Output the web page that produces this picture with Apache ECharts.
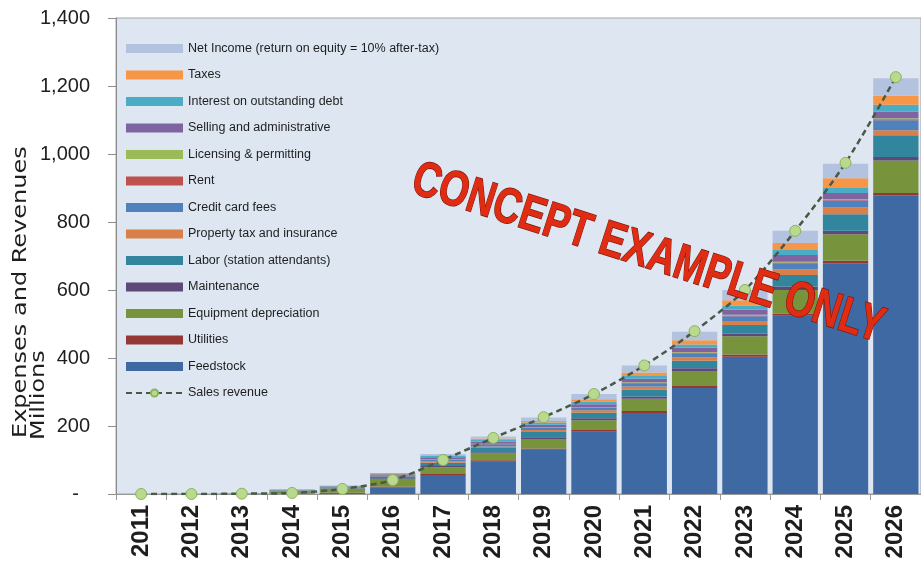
<!DOCTYPE html>
<html>
<head>
<meta charset="utf-8">
<script src="https://cdn.jsdelivr.net/npm/echarts@6/dist/echarts.min.js"></script>
<style>
  html, body { margin: 0; padding: 0; background: #fff; }
  #chart { width: 921px; height: 579px; }
</style>
</head>
<body>
<div id="chart"></div>
<script>
// values in millions
const years = ['2011', '2012', '2013', '2014', '2015', '2016', '2017', '2018', '2019', '2020', '2021', '2022', '2023', '2024', '2025', '2026']
const feedstock = [0, 0, 0, 1, 3, 20, 56, 95, 130, 183, 238, 312, 404, 524, 679, 879]
const utilities = [0, 0, 0, 0.5, 1, 2, 3, 4, 4, 5, 6, 6, 6, 7, 7, 6]
const equipment = [0, 0, 1, 6, 12, 22, 20, 20, 28, 29, 36, 44, 54, 69, 78, 96]
const maintenance = [0, 0, 0, 0.5, 1, 2, 3, 4, 5, 6, 7, 8, 8, 10, 10, 10]
const labor = [0, 0, 0.5, 2, 3, 6, 10, 12, 15, 16, 20, 22, 25, 34, 49, 64]
const propertyTax = [0, 0, 0.3, 1, 1, 2, 4, 5, 6, 7, 9, 10, 12, 17, 20, 15]
const creditCard = [0, 0, 0, 0.5, 1, 2, 5, 6, 7, 8, 10, 12, 14, 18, 20, 29]
const rent = [0, 0, 0, 0, 0, 0.5, 1, 1, 1, 1, 1, 2, 2, 2, 2, 3]
const licensing = [0, 0, 0, 0, 0, 0.5, 1, 1, 1, 1, 2, 2, 2, 2, 2, 3]
const selling = [0, 0, 0, 0.5, 1, 2, 5, 6, 7, 8, 10, 12, 15, 20, 18, 20]
const interest = [0, 0, 0, 1, 1, 2, 4, 5, 6, 7, 8, 10, 12, 15, 15, 20]
const taxes = [0, 0, 0, 0, 0, 0, 2, 4, 5, 8, 10, 12, 16, 20, 29, 26]
const netIncome = [0, 0, 0, 0, 0, 1, 4, 6, 10, 15, 21, 25, 30, 36, 42, 52]
const salesRevenue = [0, 0, 1, 3, 15, 41, 100, 165, 226, 294, 378, 479, 600, 774, 974, 1226]
const yTicks = [0, 200, 400, 600, 800, 1000, 1200, 1400]

// stacked from the bottom up
const stackParts = [
  { name: 'Feedstock', data: feedstock, color: '#3e69a2' },
  { name: 'Utilities', data: utilities, color: '#953735' },
  { name: 'Equipment depreciation', data: equipment, color: '#77933c' },
  { name: 'Maintenance', data: maintenance, color: '#5f497a' },
  { name: 'Labor (station attendants)', data: labor, color: '#31859c' },
  { name: 'Property tax and insurance', data: propertyTax, color: '#d9804a' },
  { name: 'Credit card fees', data: creditCard, color: '#4f81bd' },
  { name: 'Rent', data: rent, color: '#c0504d' },
  { name: 'Licensing & permitting', data: licensing, color: '#9bbb59' },
  { name: 'Selling and administrative', data: selling, color: '#8064a2' },
  { name: 'Interest on outstanding debt', data: interest, color: '#4bacc6' },
  { name: 'Taxes', data: taxes, color: '#f79646' },
  { name: 'Net Income (return on equity = 10% after-tax)', data: netIncome, color: '#b3c3df' }
]

// legend lists the stack top first, then the line
const legendData = stackParts.map(p => ({ name: p.name, icon: 'rect' })).reverse()
legendData.push({ name: 'Sales revenue' })

const series = stackParts.map(p => ({
  name: p.name,
  type: 'bar',
  stack: 'cost',
  barCategoryGap: '10%',
  data: p.data,
  itemStyle: { color: p.color }
}))
series.push({
  name: 'Sales revenue',
  type: 'line',
  data: salesRevenue,
  smooth: 0.3,
  symbol: 'circle',
  symbolSize: 11,
  z: 5,
  lineStyle: { color: '#4a5848', width: 2.5, type: [6, 4] },
  itemStyle: { color: '#b9da8e', borderColor: '#8db25e', borderWidth: 1 }
})

var myChart = echarts.init(document.getElementById('chart'))
const option = {
  animation: false,
  backgroundColor: '#fff',
  grid: {
    left: 116,
    right: 0,
    top: 18,
    bottom: 85,
    show: true,
    backgroundColor: '#dde6f1',
    borderColor: '#a6a6a6',
    borderWidth: 1
  },
  legend: {
    data: legendData,
    orient: 'vertical',
    left: 125,
    top: 40.5,
    padding: 0,
    itemWidth: 57,
    itemHeight: 9,
    itemGap: 10.5,
    textStyle: {
      fontFamily: '"Liberation Sans", sans-serif',
      fontSize: 12.5,
      lineHeight: 16,
      color: '#1e1e1e'
    }
  },
  xAxis: {
    type: 'category',
    data: years,
    axisLine: { lineStyle: { color: '#9a9a9a' } },
    axisTick: { show: true, length: 6, lineStyle: { color: '#9a9a9a' } },
    axisLabel: {
      rotate: 90,
      margin: 11,
      fontFamily: '"Liberation Sans", sans-serif',
      fontWeight: 'bold',
      fontSize: 24,
      color: '#1e1e1e'
    }
  },
  yAxis: {
    type: 'value',
    min: 0,
    max: 1400,
    interval: 200,
    axisLine: { show: true, lineStyle: { color: '#8c8c8c' } },
    axisTick: { show: true, length: 8, lineStyle: { color: '#8c8c8c' } },
    splitLine: { show: false },
    axisLabel: {
      margin: 26,
      fontFamily: '"Liberation Sans", sans-serif',
      fontSize: 20,
      color: '#1e1e1e',
      formatter: function(v) {
        if (v === 0) return '-  '
        return yTicks.indexOf(v) >= 0 ? v.toLocaleString('en-US') : ''
      }
    }
  },
  graphic: [
    {
      type: 'text',
      x: 21,
      y: 438,
      rotation: Math.PI / 2,
      scaleY: 0.8,
      style: {
        text: 'Expenses and Revenues',
        font: '24px "DejaVu Sans", sans-serif',
        fill: '#1e1e1e',
        align: 'left',
        verticalAlign: 'middle'
      }
    },
    {
      type: 'text',
      x: 39,
      y: 440,
      rotation: Math.PI / 2,
      scaleY: 0.8,
      style: {
        text: 'Millions',
        font: '24px "DejaVu Sans", sans-serif',
        fill: '#1e1e1e',
        align: 'left',
        verticalAlign: 'middle'
      }
    },
    {
      type: 'text',
      x: 648,
      y: 254,
      rotation: -0.31,
      scaleX: 0.76,
      z: 100,
      style: {
        text: 'CONCEPT EXAMPLE ONLY',
        font: 'bold 50px "Liberation Sans", sans-serif',
        fill: '#df2c12',
        stroke: '#7c1409',
        lineWidth: 1.4,
        align: 'center',
        verticalAlign: 'middle',
        shadowBlur: 10,
        shadowColor: 'rgba(170, 40, 30, 0.45)',
        shadowOffsetY: 14
      }
    }
  ],
  series: series
}
myChart.setOption(option)
</script>
</body>
</html>
